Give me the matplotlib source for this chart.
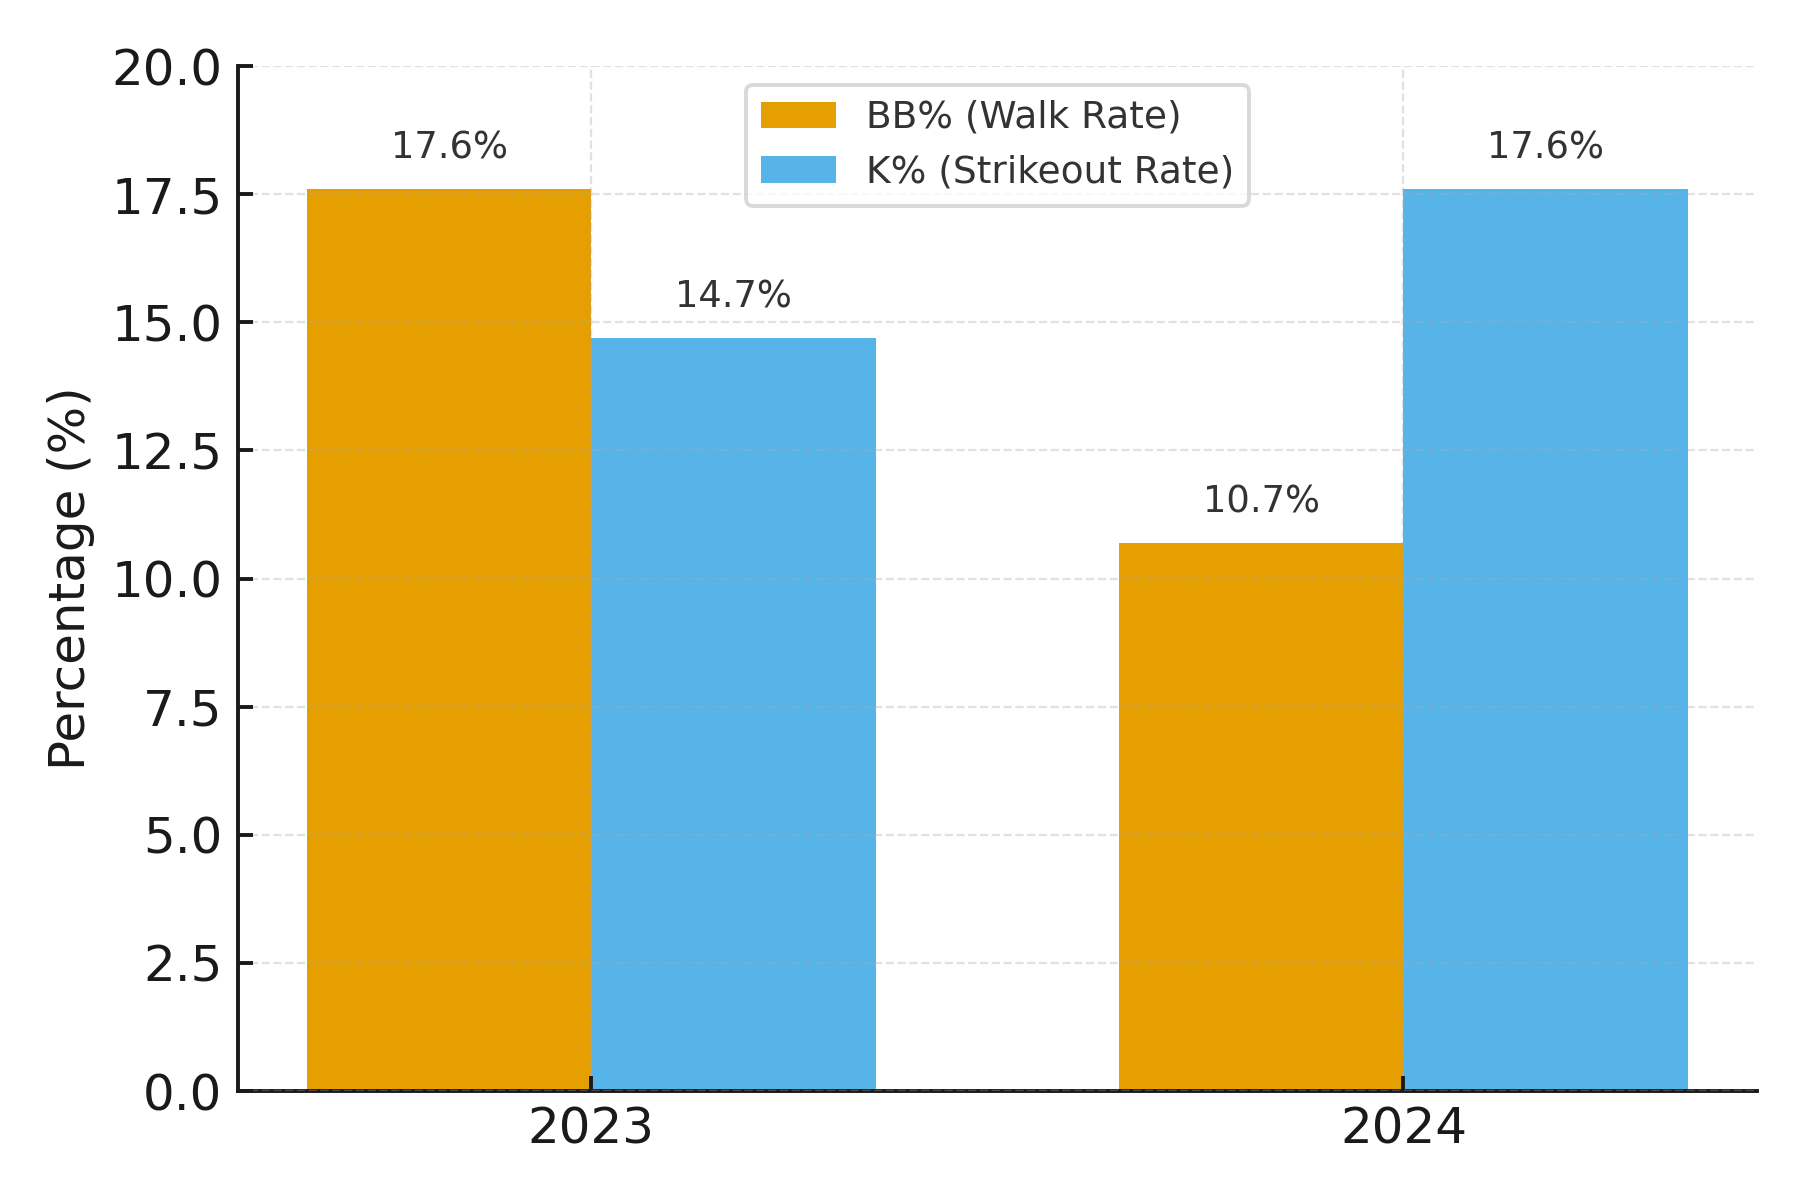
import matplotlib
matplotlib.use("Agg")
import matplotlib.pyplot as plt
import numpy as np

years = ["2023", "2024"]
bb_rate = [17.6, 10.7]
k_rate = [14.7, 17.6]
series_labels = ["BB% (Walk Rate)", "K% (Strikeout Rate)"]
colors = ["#E69F00", "#56B4E9"]

fig = plt.figure(figsize=(9, 6), dpi=200)
ax = fig.add_axes([0.1322, 0.0908, 0.8438, 0.8542])

x = np.arange(len(years))
w = 0.35
b1 = ax.bar(x - w / 2, bb_rate, w, color=colors[0], label=series_labels[0])
b2 = ax.bar(x + w / 2, k_rate, w, color=colors[1], label=series_labels[1])

for bars, vals in ((b1, bb_rate), (b2, k_rate)):
    for r, v in zip(bars, vals):
        ax.annotate(f"{v:.1f}%", (r.get_x() + r.get_width() / 2, v),
                    xytext=(0, 8), textcoords="offset points",
                    ha="center", va="bottom", fontsize=13.3, color="#333333")

ax.set_ylim(0, 20)
ax.set_yticks(np.arange(0, 20.01, 2.5))
ax.set_xticks(x)
ax.set_xticklabels(years)
ax.set_ylabel("Percentage (%)", fontsize=18, color="#1a1a1a", labelpad=5.8)
ax.tick_params(axis="both", labelsize=18, colors="#1a1a1a", length=5.5, width=1.4,
               direction="in")
ax.tick_params(axis="y", pad=5.6)
ax.tick_params(axis="x", pad=5.3)

for s in ("top", "right"):
    ax.spines[s].set_visible(False)
for s in ("left", "bottom"):
    ax.spines[s].set_linewidth(1.4)
    ax.spines[s].set_color("#1a1a1a")

ax.set_axisbelow(False)
ax.grid(True, linestyle="--", color="#aaaaaa", alpha=0.35, linewidth=0.8)

leg = ax.legend(loc="upper center", fontsize=13.5, frameon=True, fancybox=True)
leg.get_frame().set_edgecolor("#d0d0d0")
leg.get_frame().set_linewidth(1.4)
for t in leg.get_texts():
    t.set_color("#333333")

fig.savefig("out.png", dpi=200)
